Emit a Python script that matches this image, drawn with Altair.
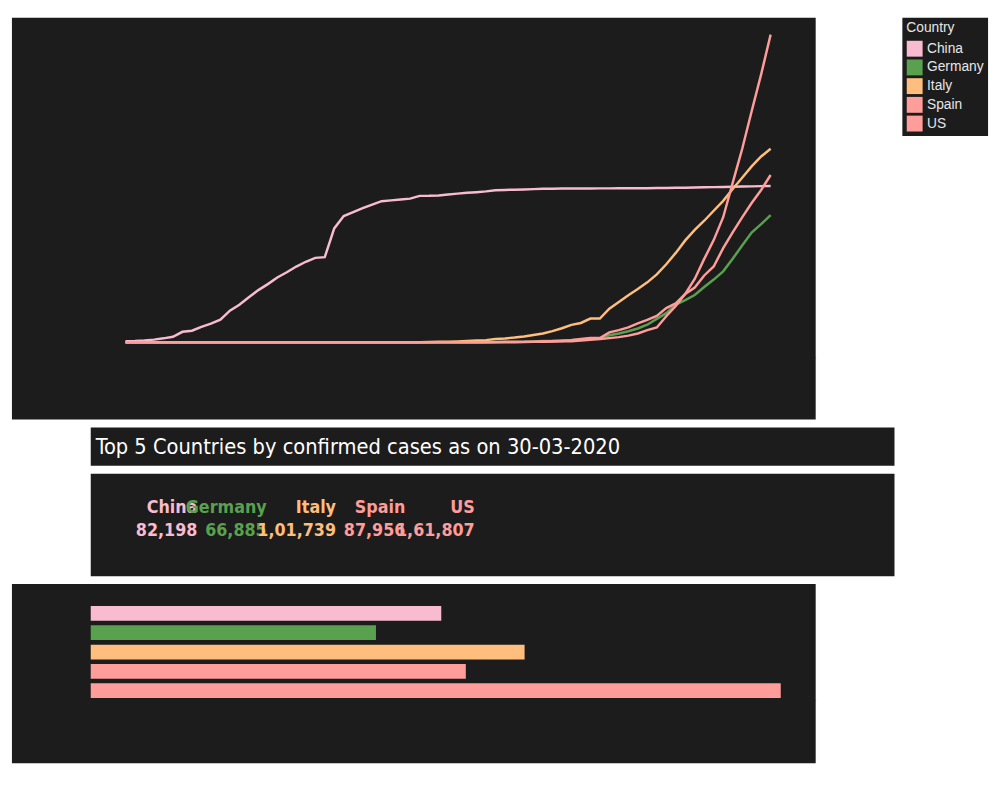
import pandas as pd
import altair as alt

BG = "#1c1c1c"
FG = "#e6e6e6"

countries = ["China", "Germany", "Italy", "Spain", "US"]
colors = ["#f9bbd0", "#59a14f", "#ffbe7d", "#ff9d9a", "#ff9d9a"]

dates = pd.date_range("2020-01-22", "2020-03-30", freq="D")

china = [548, 643, 920, 1406, 2075, 2877, 5509, 6087, 8141, 9802,
         11891, 16630, 19716, 23707, 27440, 30587, 34110, 36814, 39829, 42354,
         44386, 44759, 59895, 66358, 68413, 70513, 72434, 74211, 74619, 75077,
         75550, 77001, 77022, 77241, 77754, 78166, 78600, 78928, 79356,
         79932, 80136, 80261, 80386, 80537, 80690, 80770, 80823, 80860, 80887,
         80921, 80932, 80945, 80977, 81003, 81033, 81058, 81102, 81156, 81250,
         81305, 81435, 81498, 81591, 81661, 81782, 81897, 81999, 82122, 82198]
germany = [0, 0, 0, 0, 0, 1, 4, 4, 4, 5,
           8, 10, 12, 12, 12, 12, 13, 13, 14, 14,
           16, 16, 16, 16, 16, 16, 16, 16, 16, 16,
           16, 16, 16, 16, 17, 27, 46, 48, 79,
           130, 159, 196, 262, 482, 670, 799, 1040, 1176, 1457,
           1908, 2078, 3675, 4585, 5795, 7272, 9257, 12327, 15320, 19848,
           22213, 24873, 29056, 32986, 37323, 43938, 50871, 57695, 62095, 66885]
italy = [0, 0, 0, 0, 0, 0, 0, 0, 0, 2,
         2, 2, 2, 2, 2, 2, 3, 3, 3, 3,
         3, 3, 3, 3, 3, 3, 3, 3, 3, 3,
         20, 62, 155, 229, 322, 453, 655, 888, 1128,
         1694, 2036, 2502, 3089, 3858, 4636, 5883, 7375, 9172, 10149,
         12462, 12462, 17660, 21157, 24747, 27980, 31506, 35713, 41035, 47021,
         53578, 59138, 63927, 69176, 74386, 80589, 86498, 92472, 97689, 101739]
spain = [0, 0, 0, 0, 0, 0, 0, 0, 0, 0,
         1, 1, 1, 1, 1, 1, 1, 1, 2, 2,
         2, 2, 2, 2, 2, 2, 2, 2, 2, 2,
         2, 2, 2, 2, 6, 13, 15, 32, 45,
         84, 120, 165, 222, 259, 400, 500, 673, 1073, 1695,
         2277, 2277, 5232, 6391, 7798, 9942, 11748, 13910, 17963, 20410,
         25374, 28768, 35136, 39885, 49515, 57786, 65719, 73235, 80110, 87956]
us = [1, 1, 2, 2, 5, 5, 5, 5, 5, 7,
      8, 8, 11, 11, 11, 11, 11, 11, 11, 11,
      12, 12, 13, 13, 13, 13, 13, 13, 13, 13,
      15, 15, 15, 51, 51, 57, 58, 60, 68,
      74, 98, 118, 149, 217, 262, 402, 518, 583, 959,
      1281, 1663, 2179, 2727, 3499, 4632, 6421, 7786, 13680, 19101,
      25493, 33276, 43847, 53740, 65778, 83836, 101657, 121478, 140886, 161807]

series = dict(zip(countries, [china, germany, italy, spain, us]))
rows = []
for name, vals in series.items():
    for d, v in zip(dates, vals):
        rows.append({"Date": d, "Country": name, "Confirmed": v})
df = pd.DataFrame(rows)

latest = pd.DataFrame({"Country": countries,
                       "Confirmed": [series[c][-1] for c in countries]})


def indian(n):
    s = str(n)
    if len(s) <= 3:
        return s
    head, tail = s[:-3], s[-3:]
    parts = []
    while len(head) > 2:
        parts.insert(0, head[-2:])
        head = head[:-2]
    if head:
        parts.insert(0, head)
    return ",".join(parts) + "," + tail


latest["Label"] = latest["Confirmed"].map(indian)

color = alt.Color("Country:N", scale=alt.Scale(domain=countries, range=colors),
                  legend=alt.Legend(title="Country", orient="right", fillColor=BG,
                                    symbolType="square", symbolSize=260,
                                    symbolStrokeWidth=0, symbolOpacity=1,
                                    labelFontSize=14, titleFontSize=14,
                                    titleFontWeight="normal", labelColor=FG,
                                    titleColor=FG, padding=4, offset=8))
kfmt = "format(datum.value / 1000, 'd') + 'K'"
one = pd.DataFrame({"a": [0]})


def panel(x1, x2, y1, y2):
    return alt.Chart(one).mark_rect(color=BG).encode(
        x=alt.value(x1), x2=alt.value(x2), y=alt.value(y1), y2=alt.value(y2))


lines = alt.Chart(df).mark_line(strokeWidth=2.5).encode(
    x=alt.X("Date:T", title="Day of Date [2020]",
            scale=alt.Scale(domain=["2020-01-18T08:00", "2020-04-03T18:00"]),
            axis=alt.Axis(format="%b %-d", grid=False,
                          values=["2020-01-28", "2020-02-07", "2020-02-17", "2020-02-27",
                                  "2020-03-08", "2020-03-18", "2020-03-28"])),
    y=alt.Y("Confirmed:Q", scale=alt.Scale(domain=[-8000, 170700], nice=False),
            axis=alt.Axis(values=[0, 50000, 100000, 150000], labelExpr=kfmt, grid=False,
                          titleFontSize=12)),
    color=color,
)
line_chart = alt.layer(panel(-80, 736, 0, 408), lines).properties(width=736, height=345)

title_chart = alt.layer(
    panel(0, 816, 0, 39),
    alt.Chart(pd.DataFrame({"t": ["Top 5 Countries by confirmed cases as on 30-03-2020"]}))
    .mark_text(align="left", baseline="middle", fontSize=22, color="#ffffff",
               font="DejaVu Sans Condensed")
    .encode(x=alt.value(5), y=alt.value(20), text="t:N"),
).properties(width=816, height=39)

cx = alt.X("Country:N", sort=countries, scale=alt.Scale(range=[73, 425]), axis=None)
tcolor = alt.Color("Country:N", scale=alt.Scale(domain=countries, range=colors), legend=None)
names = alt.Chart(latest).mark_text(align="right", fontSize=18, fontWeight="bold",
                                    font="DejaVu Sans Condensed").encode(
    x=cx, y=alt.value(35), text="Country:N", color=tcolor)
nums = alt.Chart(latest).mark_text(align="right", fontSize=18, fontWeight="bold",
                                   font="DejaVu Sans Condensed").encode(
    x=cx, y=alt.value(58), text="Label:N", color=tcolor)
kpi_chart = alt.layer(panel(0, 816, 0, 104), names, nums).properties(width=816, height=104)

bars = alt.Chart(latest).mark_bar(size=15).encode(
    x=alt.X("Confirmed:Q", scale=alt.Scale(domain=[0, 170000], nice=False),
            axis=alt.Axis(values=list(range(0, 170000, 10000)), labelExpr=kfmt, grid=False,
                          title="Confirmed", titleFontSize=13)),
    y=alt.Y("Country:N", sort=countries,
            axis=alt.Axis(title="Country", titleAngle=0, titleAlign="left", titleX=-62,
                          titleY=-6, titleFontSize=13,
                          ticks=False, domain=False, labelPadding=6)),
    color=tcolor,
)
bar_chart = alt.layer(panel(-80, 736, -20, 162), bars).properties(width=736, height=98)

chart = alt.vconcat(line_chart, title_chart, kpi_chart, bar_chart, spacing=8).properties(
    background="#ffffff", padding={"left": 4, "top": 4, "right": 4, "bottom": 4}
).configure_view(stroke=None).configure_axis(
    labelColor=FG, titleColor=FG, domainColor="#bbbbbb", tickColor="#bbbbbb",
    labelFont="DejaVu Sans Condensed", titleFont="DejaVu Sans Condensed",
    labelFontSize=14, titleFontSize=14, titleFontWeight="normal",
).configure_axisX(titlePadding=10).configure_axisY(titlePadding=12)

chart.save("out.html", embed_options={"renderer": "svg", "actions": False})
